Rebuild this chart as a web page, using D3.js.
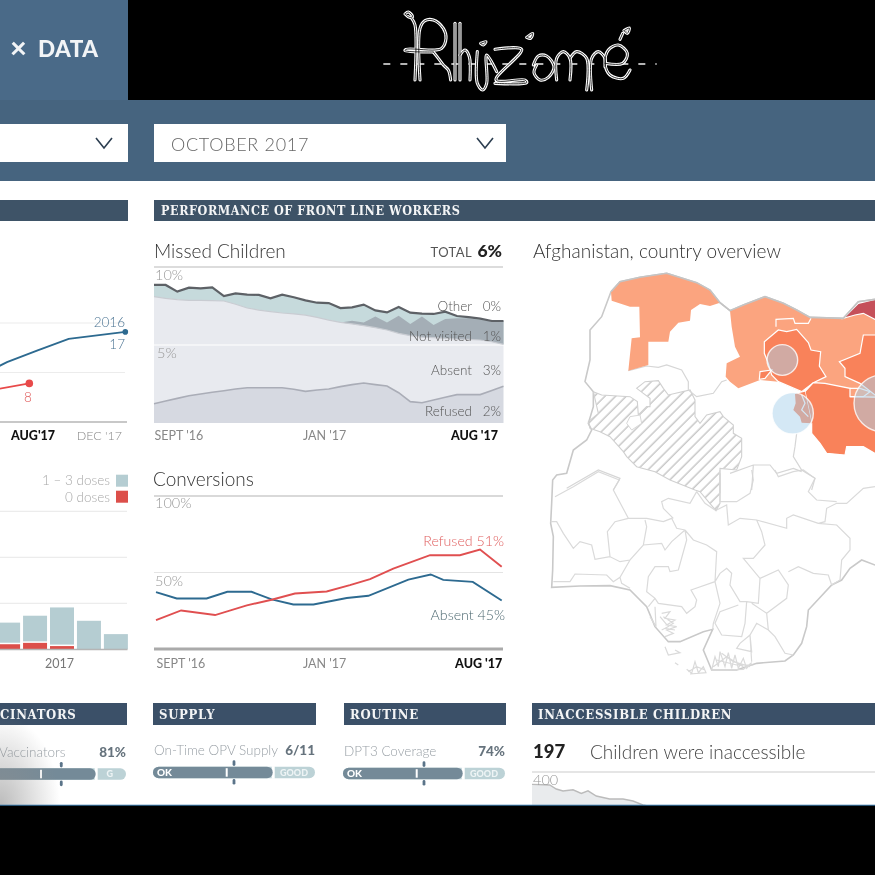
<!DOCTYPE html>
<html><head><meta charset="utf-8">
<script src="https://cdnjs.cloudflare.com/ajax/libs/d3/7.8.5/d3.min.js"></script>
<style>
html,body{margin:0;padding:0;background:#000;}
svg{display:block;filter:blur(.35px);}
text{font-family:Lato,"Open Sans",sans-serif;}
.slab{font-family:"DejaVu Serif Condensed","DejaVu Serif",serif;font-weight:700;}
</style></head><body>
<svg id="c" width="875" height="875" viewBox="0 0 875 875"></svg>
<script>
// ---------- Missed Children (percent of children, 31 reporting rounds)
const missedTotal=[8.85,8.85,8.42,8.68,8.63,8.70,8.14,8.31,8.23,8.21,7.99,8.23,8.06,7.86,7.71,7.69,7.37,7.41,7.59,7.22,7.09,7.44,7.07,7.01,6.99,7.14,6.86,6.79,6.69,6.54,6.54];
const missedAbsentTop=[8.10,7.99,7.91,7.86,7.86,7.84,7.82,7.61,7.37,7.24,7.14,7.05,6.99,6.92,6.77,6.60,6.45,6.35,6.24,6.11,5.96,5.75,5.60,5.51,5.47,5.43,5.38,5.36,5.32,5.21,5.04];
const missedNotVisitedTop=[8.10,7.99,7.91,7.86,7.86,7.84,7.82,7.61,7.37,7.24,7.14,7.05,6.99,6.92,6.77,6.60,6.45,6.56,6.45,6.82,6.45,6.88,6.35,6.82,6.28,6.67,6.71,6.71,6.60,6.54,6.50];
const missedRefused=[1.24,1.41,1.58,1.75,1.86,1.97,2.07,2.18,2.26,2.26,2.26,2.26,2.16,2.03,2.12,2.18,2.33,2.46,2.56,2.46,2.37,1.94,1.37,1.30,1.47,1.65,1.82,1.82,1.82,2.09,2.35];
const missedLabels=[["Other","0%"],["Not visited","1%"],["Absent","3%"],["Refused","2%"]];
const missedLabelLevels=[7.5,5.55,3.4,0.72];
const missedGrid=[10,5];
const missedTickIdx=[0,14.6,30];
const timeTickLabels=["SEPT '16","JAN '17","AUG '17"];
// ---------- Conversions (months since Sept 2016, percent)
const convRefusedMonth=[0,.8,1.88,2.89,3.68,4.42,5.43,6.17,6.81,7.55,8.72,9.67,10.31,11];
const convRefused=[18.9,25.2,22.2,28.5,32.2,36.3,37.6,41.7,45.7,52.6,61.3,61.3,65,53.7];
const convAbsentMonth=[0,.66,1.61,2.27,3.04,3.68,4.37,5.01,6.07,6.76,8.03,8.74,9.14,10.08,11];
const convAbsent=[37.2,33,33,37.4,37.4,32.4,29.1,29.1,33.3,34.8,45.4,48.7,45.2,43.9,31.7];
const convGrid=[100,50,0];
const convTickMonth=[0,5.35,11];
// ---------- Left cases chart (months relative to Aug 2017)
const blueMonth=[-1.5,-.93,.32,1.64,4];
const blueCases=[10.7,12.1,14.4,16.8,18.2];
const redMonth=[-1.5,0];
const redCases=[6.5,7.8];
const casesGrid=[20,10];
// ---------- Stacked dose bars
const doseYears=["a","b","c","d","e"];
const dosesSome=[58,73,91,62,33];
const dosesZero=[11,14,7,0,0];
const doseGrid=[100,200,300];
// ---------- Inaccessible children
const inaccWeek=[0,17.7,24.3,31,41,49.3,56,64.3,77.7,91,101,111,130,180,343];
const inaccValue=[338,335,315,305,311,293,306,280,265,265,255,235,215,180,150];
// ---------- Progress bars
const barNames=["Vaccinators","On-Time OPV Supply","DPT3 Coverage"];
const barValues=["81%","6/11","74%"];
const barFill=[.837,.739,.739];
const barTick=[.543,.455,.455];
const barMark=[.652,.5,.5];
// ---------- Map, in tracing units
const outer=[[243,95],[270,65],[330,52],[410,40],[500,68],[540,90],[570,128],[600,152],[640,135],[705,110],[760,130],[800,150],[840,172],[940,175],[985,125],[1035,118],[1200,118],[1200,900],[1035,915],[995,900],[960,925],[935,960],[905,975],[835,1050],[830,1100],[815,1150],[790,1185],[765,1203],[680,1210],[620,1230],[545,1230],[520,1170],[548,1108],[520,1115],[450,1145],[415,1145],[375,1100],[350,1040],[300,990],[240,977],[150,978],[65,982],[68,930],[70,830],[62,790],[65,730],[68,660],[80,645],[110,640],[130,570],[170,540],[185,510],[175,490],[190,440],[190,395],[165,365],[180,300],[180,210],[215,170]];
const lightA=[[243,95],[270,65],[330,52],[410,40],[500,68],[540,90],[570,128],[540,138],[510,132],[483,150],[480,182],[445,188],[420,215],[415,245],[355,245],[355,315],[295,332],[305,235],[330,232],[328,140],[300,140],[245,122]];
const lightB=[[600,152],[640,135],[705,110],[760,130],[800,150],[840,172],[940,175],[985,150],[1035,175],[1200,178],[1200,420],[1035,420],[960,410],[960,385],[885,370],[850,368],[815,395],[745,365],[690,360],[625,385],[600,365],[587,350],[590,310],[630,290],[615,260],[605,200]];
const midA=[[703,245],[745,210],[770,215],[800,208],[835,248],[843,270],[872,275],[868,318],[888,350],[850,368],[815,395],[745,365],[725,345],[715,310],[703,280]];
const midA2=[[690,335],[725,330],[705,355],[688,358]];
const midB=[[850,368],[885,370],[960,385],[960,410],[1200,415],[1200,640],[1035,580],[1000,560],[950,560],[945,585],[890,580],[870,550],[845,520],[845,490],[825,395]];
const midC=[[1000,225],[1200,225],[1200,420],[1035,405],[990,370],[945,350],[945,325],[928,305],[990,280]];
const midD=[[795,402],[825,395],[845,490],[815,488],[810,470],[790,450],[797,430]];
const deep=[[940,175],[985,130],[1035,118],[1200,118],[1200,180],[1035,178],[1000,160],[975,165]];
const hatched=[[190,395],[215,405],[300,410],[322,425],[325,465],[350,440],[360,440],[360,415],[340,400],[320,385],[345,365],[385,362],[400,385],[415,405],[480,390],[495,420],[495,470],[510,490],[530,465],[570,455],[580,470],[610,495],[610,520],[635,535],[635,590],[620,630],[570,625],[570,730],[558,752],[510,695],[495,690],[420,660],[375,635],[320,620],[290,590],[280,575],[240,530],[210,515],[180,505],[175,485],[205,460]];
const hatchHole=[[290,490],[305,510],[335,490],[330,465],[300,470]];
const whiteOutlines=[
 [[738,200],[738,178],[790,175],[795,190],[835,190],[843,175]],
 [[960,385],[990,385],[1020,395],[1000,410],[960,410]],
 [[815,405],[825,430],[815,450],[835,470]]];
const northLines=[
 [[295,332],[350,318],[385,322],[410,315],[455,330],[475,365],[475,390],[500,410],[550,400],[575,365],[590,360]],
 [[800,520],[795,560],[790,590],[815,630],[855,655],[845,690]],
 [[600,640],[670,615],[720,615],[740,640],[790,625],[815,635]],
 [[670,615],[665,690]],[[570,640],[570,700]],
 [[110,685],[205,630],[270,655],[250,690]]];
const southLines=[
 [[75,80],[130,50],[205,5],[268,30],[250,60],[295,145]],
 [[295,145],[350,145],[400,155],[425,145],[440,175],[465,180]],
 [[295,145],[255,155],[232,185],[240,260],[270,275],[300,270],[340,225],[395,220],[405,240],[425,215],[465,180]],
 [[340,225],[350,170],[345,150]],
 [[240,260],[195,268],[185,225],[150,215],[130,235],[100,190],[80,155],[62,155]],
 [[70,335],[120,335],[135,312],[230,315],[250,335],[270,322],[300,270]],
 [[270,322],[275,340],[300,355]],
 [[465,180],[470,210],[445,300],[420,305],[415,290],[375,290],[355,320],[350,365],[375,385],[355,410]],
 [[375,385],[385,400],[455,410],[470,430],[495,410],[500,390],[483,360],[555,335]],
 [[465,180],[490,210],[530,225],[560,245],[555,335],[570,400],[550,460],[548,478]],
 [[555,335],[570,310],[590,295],[605,310],[600,345],[630,395],[650,395],[685,400],[690,325],[640,265],[670,265],[705,225],[695,185],[680,150],[630,145],[595,165],[590,105],[560,120]],
 [[400,115],[395,95],[415,85],[480,100],[500,65]],[[400,115],[430,145]],
 [[500,65],[525,100],[555,120]],
 [[680,150],[770,175],[770,145],[790,135],[865,160],[920,165],[960,205],[960,240],[935,270],[930,330],[905,345]],
 [[865,160],[885,155],[890,115],[920,100],[950,100],[1000,55],[1035,50]],
 [[570,0],[570,95],[620,95],[660,70],[670,30],[665,0]],
 [[735,0],[745,20],[790,5],[820,0],[855,25],[835,65],[860,90],[920,95]],
 [[690,325],[745,300],[775,345],[770,385],[710,430],[665,400]],
 [[775,305],[805,290],[850,310],[895,315],[905,345]],
 [[710,430],[715,480],[680,460],[660,495],[630,520],[620,535],[665,545],[660,495]],
 [[650,395],[645,460],[635,500],[575,495],[555,460],[570,425],[625,405]],
 [[660,495],[665,575]],[[715,480],[735,500],[765,550],[790,555]],
 [[405,530],[415,555],[450,548],[435,540]],[[435,578],[445,585]],
 [[360,440],[378,470],[375,410]],
 [[395,430],[420,425],[405,445],[435,450],[410,465],[440,470],[410,480],[430,490],[405,500]],
 [[390,440],[415,470],[395,480]],[[400,440],[430,460],[405,475],[435,480]],
 [[470,598],[485,610],[495,575],[505,608],[520,590],[528,608],[480,612]],
 [[475,605],[500,590],[525,600]],
 [[545,600],[555,560],[565,590],[570,545],[585,590],[595,548],[605,595],[615,555],[625,595],[640,565],[650,595],[665,578],[640,598],[590,600],[545,600]],
 [[560,570],[620,585],[670,585]],[[575,550],[610,575],[660,590]],[[550,590],[590,560],[640,590]]];
const bubbles=[[788,460,62],[757,300,46],[1057,430,85]];
// ---------- Logo strokes
const logoStrokes=[
 [[105,42],[115,36],[128,50],[118,52],[105,42]],
 [[125,55],[135,75],[135,240]],
 [[150,240],[150,85],[165,62],[190,60],[220,85],[228,115],[215,145],[195,150],[108,148],[105,152],[190,156]],
 [[190,156],[205,175],[220,195],[235,210],[242,240]],
 [[255,70],[255,240]],[[270,240],[270,70]],
 [[270,165],[285,150],[298,170],[300,240]],
 [[332,130],[348,125],[340,135],[332,130]],
 [[322,155],[322,250],[338,270],[350,250],[350,165],[380,215]],
 [[375,148],[455,148],[378,240],[465,240],[470,248],[375,250]],
 [[470,112],[488,100],[482,115],[470,112]],
 [[500,195],[492,218],[510,240],[535,232],[552,200],[530,168],[505,168],[490,195]],
 [[560,240],[560,175],[580,155],[600,175],[600,240]],
 [[600,175],[620,155],[650,175],[650,270]],
 [[665,270],[665,175],[685,155],[705,175],[705,200]],
 [[705,190],[758,190],[772,160],[745,135],[715,150],[705,190],[720,225],[760,235],[780,210]],
 [[762,92],[778,84],[772,100],[762,92]],[[750,118],[758,100]]];

const svg=d3.select("#c");
const defs=svg.append("defs");
const pat=defs.append("pattern").attr("id","hatch").attr("patternUnits","userSpaceOnUse").attr("width",7.5).attr("height",7.5).attr("patternTransform","rotate(-45)");
pat.append("line").attr("x1",0).attr("y1",3).attr("x2",7.5).attr("y2",3).attr("stroke","#c8c8c8").attr("stroke-width",1.5);
const grad=defs.append("radialGradient").attr("id","shade").attr("cx",0).attr("cy",1).attr("r",1);
grad.append("stop").attr("offset","0").attr("stop-color","#8f8f8f").attr("stop-opacity",.6);
grad.append("stop").attr("offset","1").attr("stop-color","#8f8f8f").attr("stop-opacity",0);
const t=(x,y,s,size,fill,anchor="start",weight=300,g=svg)=>g.append("text").attr("x",x).attr("y",y).attr("dy",".35em").attr("font-size",size).attr("fill",fill).attr("text-anchor",anchor).attr("font-weight",weight).text(s);
const rect=(x,y,w,h,f)=>svg.append("rect").attr("x",x).attr("y",y).attr("width",w).attr("height",h).attr("fill",f);
const hline=(x1,x2,y,c,w)=>svg.append("line").attr("x1",x1).attr("x2",x2).attr("y1",y).attr("y2",y).attr("stroke",c).attr("stroke-width",w);

// frame
rect(0,0,875,875,"#fff");
rect(0,0,875,100,"#000");
rect(0,0,128,100,"#4a6a88");
rect(0,100,875,81,"#46647f");
rect(0,124,128,38,"#fff");rect(154,124,352,38,"#fff");
t(10,48,"×",29,"#f2f4f6","start",900);
t(38,49,"DATA",22.5,"#f2f4f6","start",900).attr("letter-spacing",.5);
t(171,144.5,"OCTOBER 2017",18,"#666").attr("letter-spacing",.7);
[[96,112],[477,493]].forEach(c=>svg.append("path").attr("d",d3.line()([[c[0],138],[(c[0]+c[1])/2,148],[c[1],138]])).attr("fill","none").attr("stroke","#2c3e50").attr("stroke-width",1.6));
rect(0,200,128,21,"#3e5367");rect(154,200,721,21,"#3e5367");
t(161,210.5,"PERFORMANCE OF FRONT LINE WORKERS",12.5,"#f4f5f6","start",700).attr("class","slab").attr("letter-spacing",.55);

// logo
const logoX=d3.scaleLinear().domain([0,900]).range([370,670]);
const logoY=d3.scaleLinear().domain([0,300]).range([0,100]);
const logoLine=d3.line().x(d=>logoX(d[0])).y(d=>logoY(d[1])).curve(d3.curveCatmullRom.alpha(.5));
const logo=svg.append("g").attr("fill","none").attr("stroke-linecap","round");
logo.append("title").text("Rhizome");
logo.append("line").attr("x1",logoX(40)).attr("x2",logoX(860)).attr("y1",logoY(192)).attr("y2",logoY(192)).attr("stroke","#eee").attr("stroke-width",1.6).attr("stroke-dasharray","7 10").attr("stroke-linecap","butt");
logoStrokes.forEach(s=>logo.append("path").attr("d",logoLine(s)).attr("stroke","#fff").attr("stroke-width",3.1));
logoStrokes.forEach(s=>logo.append("path").attr("d",logoLine(s)).attr("stroke","#000").attr("stroke-width",.8));

// Missed children
const mx=d3.scaleLinear().domain([0,30]).range([154,503.5]);
const my=d3.scaleLinear().domain([0,10]).range([423,267]);
t(154,251,"Missed Children",19,"#333");
t(472,252.5,"TOTAL",13,"#555","end",400).attr("letter-spacing",.4);
t(502,251,"6%",17.5,"#222","end",900);
const idx=d3.range(31);
const area=(lo,hi)=>d3.area().x(i=>mx(i)).y0(i=>my(lo(i))).y1(i=>my(hi(i)))(idx);
const mline=a=>d3.line().x(i=>mx(i)).y(i=>my(a[i]))(idx);
svg.append("path").attr("d",area(i=>0,i=>missedRefused[i])).attr("fill","#d6d9e1");
svg.append("path").attr("d",area(i=>missedRefused[i],i=>missedAbsentTop[i])).attr("fill","#e8eaef");
svg.append("path").attr("d",area(i=>missedAbsentTop[i],i=>missedTotal[i])).attr("fill","#c6dadc");
svg.append("path").attr("d",area(i=>missedAbsentTop[i],i=>missedNotVisitedTop[i])).attr("fill","#a4aeb6");
hline(154,504,my(5),"#fff",1.2);
hline(154,503,my(10),"#d0d0d0",1.6);
svg.append("path").attr("d",mline(missedRefused)).attr("fill","none").attr("stroke","#aaadb7").attr("stroke-width",1.6);
svg.append("path").attr("d",mline(missedAbsentTop)).attr("fill","none").attr("stroke","#c9ccd2").attr("stroke-width",1.2);
svg.append("path").attr("d",mline(missedTotal)).attr("fill","none").attr("stroke","#5d6166").attr("stroke-width",2.2);
t(155,275,"10%",14.5,"#999");t(157,353,"5%",14.5,"#999");
missedLabels.forEach((l,i)=>{const y=my(missedLabelLevels[i]);t(472,y,l[0],13.5,"#555","end");t(501,y,l[1],13.5,"#555","end");});
const addAxis=(scale,vals,y,endShift)=>{
  const g=svg.append("g").attr("transform",`translate(0,${y})`).call(d3.axisBottom(scale).tickValues(vals).tickSize(0).tickPadding(0).tickFormat((d,i)=>timeTickLabels[i]));
  g.select(".domain").remove();
  g.selectAll("text").attr("y",0).attr("dy",".35em").style("font-family","Lato,sans-serif").attr("font-size",12.5).attr("fill","#888")
   .attr("text-anchor",(d,i)=>["start","middle","end"][i]).attr("dx",(d,i)=>[0,0,endShift][i]);
  g.selectAll(".tick:last-child text").attr("fill","#111").attr("font-weight",900);
};
addAxis(mx,missedTickIdx,436,-6);

// Conversions
const cx=d3.scaleLinear().domain([0,11]).range([156,501.7]);
const cy=d3.scaleLinear().domain([0,100]).range([649,496]);
t(153,479,"Conversions",19,"#333");
convGrid.forEach(v=>hline(154,503,cy(v),v==0?"#aaa":v==100?"#ccc":"#e4e4e4",v==0?3:v==100?1.6:1));
t(155,503,"100%",14.5,"#999");t(155,581,"50%",14.5,"#999");
const cline=(ms,vs,c)=>svg.append("path").attr("d",d3.line().x((d,i)=>cx(ms[i])).y(d=>cy(d))(vs)).attr("fill","none").attr("stroke",c).attr("stroke-width",1.9);
cline(convAbsentMonth,convAbsent,"#2d6a90");
cline(convRefusedMonth,convRefused,"#e04f50");
t(504,541,"Refused 51%",14.2,"#e06060","end");
t(505,615,"Absent 45%",14.2,"#4f6a72","end");
addAxis(cx,convTickMonth,664,0);

// Left cases chart
const lx=d3.scaleLinear().domain([0,4]).range([29.3,125.3]);
const ly=d3.scaleLinear().domain([0,20]).range([422,323]);
casesGrid.forEach(v=>hline(0,125,ly(v),"#ececec",1.2));
hline(0,127,ly(0),"#c8c8c8",2);
const lline=(ms,vs,c,w)=>svg.append("path").attr("d",d3.line().x((d,i)=>lx(ms[i])).y(d=>ly(d))(vs)).attr("fill","none").attr("stroke",c).attr("stroke-width",w);
lline(blueMonth,blueCases,"#2d6a90",1.9);
lline(redMonth,redCases,"#e84a4a",1.9);
svg.append("circle").attr("cx",lx(4)).attr("cy",ly(18.2)).attr("r",2.8).attr("fill","#2d6a90");
svg.append("circle").attr("cx",lx(0)).attr("cy",ly(7.8)).attr("r",3.8).attr("fill","#e84a4a");
t(125,322.5,"2016",13.5,"#4b7493","end");t(125,344.5,"17",13.5,"#4b7493","end");
t(28,397,"8",13.5,"#e05a5a","middle");
t(11,436,"AUG'17",12.5,"#111","start",900);
t(122,436,"DEC '17",12.5,"#888","end");

// Doses
const bx=d3.scaleBand().domain(doseYears).range([-5.5,129.5]).paddingInner(.11).paddingOuter(.06);
const by=d3.scaleLinear().domain([0,300]).range([649.3,511.3]);
doseGrid.forEach(v=>hline(0,127,by(v),"#ececec",1.2));
doseYears.forEach((d,i)=>{
  const z=dosesZero[i],top=dosesSome[i];
  svg.append("rect").attr("x",bx(d)).attr("width",bx.bandwidth()).attr("y",by(top)).attr("height",by(z)-by(top)-(z?1.5:0)).attr("fill","#b5cdd2");
  if(z) svg.append("rect").attr("x",bx(d)).attr("width",bx.bandwidth()).attr("y",by(z)).attr("height",by(0)-by(z)).attr("fill","#dc4f4a");
});
hline(0,127.5,649.5,"#b5b5b5",1.6);
t(110,480.5,"1 – 3 doses",13.5,"#a8a8a8","end");
t(110,497,"0 doses",13.5,"#a8a8a8","end");
rect(116,474.7,12,12,"#b5cdd2");rect(116,490.7,12,12,"#dc4f4a");
t(59.5,664,"2017",12.5,"#777","middle",400);

// Map
const proj=y0=>d3.geoPath(d3.geoIdentity().scale(1/3).translate([530,y0]));
const north=proj(260),south=proj(470);
const poly=c=>({type:"Polygon",coordinates:[c.concat([c[0]])]});
const multiline=c=>({type:"MultiLineString",coordinates:c});
svg.append("path").attr("d",north(poly(outer))).attr("fill","#fff").attr("stroke","#c9c9c9").attr("stroke-width",1.6);
svg.append("path").attr("d",north(poly(hatched))).attr("fill","url(#hatch)").attr("stroke","#d0d0d0").attr("stroke-width",1.1);
svg.append("path").attr("d",north(poly(hatchHole))).attr("fill","#fff").attr("stroke","#d8d8d8").attr("stroke-width",1);
svg.append("path").attr("d",south(multiline(southLines))).attr("fill","none").attr("stroke","#dadada").attr("stroke-width",1.2);
svg.append("path").attr("d",north(multiline(northLines))).attr("fill","none").attr("stroke","#d6d6d6").attr("stroke-width",1.2);
[[lightA,"#fba47f"],[lightB,"#fba47f"],[midA,"#f9825a"],[midA2,"#f9825a"],[midB,"#f9825a"],[midC,"#f9825a"],[midD,"#f9825a"],[deep,"#c5505a"]].forEach(r=>
  svg.append("path").attr("d",north(poly(r[0]))).attr("fill",r[1]).attr("stroke",(r[0]===lightA||r[0]===lightB||r[0]===midD)?"none":"#fff").attr("stroke-width",1.2));
svg.append("path").attr("d",north(multiline(whiteOutlines))).attr("fill","none").attr("stroke","#fff").attr("stroke-width",1.2);
svg.append("path").attr("d",north({type:"LineString",coordinates:outer.slice(0,16)})).attr("fill","none").attr("stroke","#c4c4c4").attr("stroke-width",1.6);
const mapScale=d3.scaleLinear().domain([0,300]).range([0,100]);
bubbles.forEach(b=>svg.append("circle").attr("cx",530+mapScale(b[0])).attr("cy",260+mapScale(b[1])).attr("r",mapScale(b[2])).attr("fill","#aad2eb").attr("fill-opacity",.5).attr("stroke","#fff").attr("stroke-opacity",.8).attr("stroke-width",1.4));
t(533,251,"Afghanistan, country overview",19,"#333");

// Bottom sections
[[0,127,"CINATORS",0],[153,163,"SUPPLY",159],[344,162,"ROUTINE",350],[532,343,"INACCESSIBLE CHILDREN",538]].forEach(h=>{
  rect(h[0],703,h[1],22,"#3b5068");
  t(h[3],714.5,h[2],13,"#f4f5f6","start",700).attr("class","slab").attr("letter-spacing",.7);
});
const bars=[{x0:-60,x1:126,y:768.3,ok:null,good:"G"},{x0:153,x1:315,y:766.7,ok:"OK",good:"GOOD"},{x0:343,x1:505,y:767.7,ok:"OK",good:"GOOD"}];
bars.forEach((b,i)=>{
  const s=d3.scaleLinear().domain([0,1]).range([b.x0,b.x1]);
  const h=11.5;
  svg.append("rect").attr("x",s(0)).attr("y",b.y).attr("width",s(1)-s(0)).attr("height",h).attr("rx",5.7).attr("fill","#bcd2d6");
  svg.append("rect").attr("x",s(barFill[i])-1).attr("y",b.y-.5).attr("width",3).attr("height",h+1).attr("fill","#fff");
  svg.append("rect").attr("x",s(0)).attr("y",b.y).attr("width",s(barFill[i])-s(0)).attr("height",h).attr("rx",5.7).attr("fill","#748a98");
  rect(s(barTick[i])-1,b.y+1.5,2,h-3,"#fff");
  svg.append("line").attr("x1",s(barMark[i])).attr("x2",s(barMark[i])).attr("y1",b.y-5).attr("y2",b.y-2.2).attr("stroke","#5b7489").attr("stroke-width",2.8).attr("stroke-linecap","round");
  svg.append("line").attr("x1",s(barMark[i])).attr("x2",s(barMark[i])).attr("y1",b.y+h+2.2).attr("y2",b.y+h+5).attr("stroke","#5b7489").attr("stroke-width",2.8).attr("stroke-linecap","round");
  if(b.ok) t(b.x0+4,b.y+h/2,b.ok,10,"#fff","start",900);
  t(s(1)-(i?7:13),b.y+h/2,b.good,9,"#eef4f5","end",900);
  const lx0=i==0?-1:b.x0+1;
  t(lx0,b.y-16,barNames[i],13.5,"#9aa1a7");
  t(b.x1,b.y-16,barValues[i],13.5,"#66737d","end",900);
});
t(533,752,"197",18.5,"#222","start",900);
t(590,752,"Children were inaccessible",19,"#444");
hline(532,875,772,"#ccc",1.2);
const ix=d3.scaleLinear().domain([0,343]).range([532,875]);
const iy=d3.scaleLinear().domain([0,400]).range([852,772]);
svg.append("path").attr("d",d3.area().x((d,i)=>ix(inaccWeek[i])).y0(iy(0)).y1(d=>iy(d))(inaccValue)).attr("fill","#e9ebed");
svg.append("path").attr("d",d3.line().x((d,i)=>ix(inaccWeek[i])).y(d=>iy(d))(inaccValue)).attr("fill","none").attr("stroke","#bbb").attr("stroke-width",1.4);
t(533,780,"400",14.5,"#999");

// lower-left vignette and bottom bar
rect(0,715,60,90,"url(#shade)");
rect(0,805,875,70,"#000");
hline(0,875,805.2,"#3d7fb0",1);
</script>
</body></html>
